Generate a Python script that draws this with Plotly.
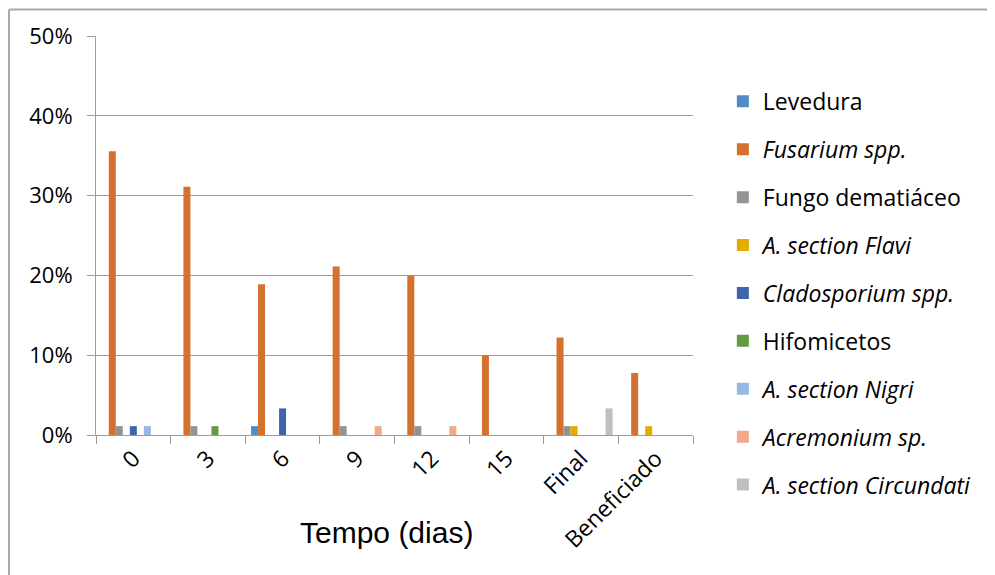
import plotly.graph_objects as go

categories = ["0", "3", "6", "9", "12", "15", "Final", "Beneficiado"]

series_names = [
    "Levedura",
    "<i>Fusarium spp.</i>",
    "Fungo dematiáceo",
    "<i>A. section Flavi</i>",
    "<i>Cladosporium spp.</i>",
    "Hifomicetos",
    "<i>A. section Nigri</i>",
    "<i>Acremonium sp.</i>",
    "<i>A. section Circundati</i>",
]

levedura = [0, 0, 1.11, 0, 0, 0, 0, 0]
fusarium = [35.56, 31.11, 18.89, 21.11, 20.0, 10.0, 12.22, 7.78]
dematiaceo = [1.11, 1.11, 0, 1.11, 1.11, 0, 1.11, 0]
flavi = [0, 0, 0, 0, 0, 0, 1.11, 1.11]
cladosporium = [1.11, 0, 3.33, 0, 0, 0, 0, 0]
hifomicetos = [0, 1.11, 0, 0, 0, 0, 0, 0]
nigri = [1.11, 0, 0, 0, 0, 0, 0, 0]
acremonium = [0, 0, 0, 1.11, 1.11, 0, 0, 0]
circundati = [0, 0, 0, 0, 0, 0, 3.33, 0]

series_values = [levedura, fusarium, dematiaceo, flavi, cladosporium,
                 hifomicetos, nigri, acremonium, circundati]

colors = ["#518CC5", "#D5712E", "#939393", "#E2AC00", "#3F64AD",
          "#629B42", "#97B9E0", "#F2A98A", "#BFBFBF"]

font_main = "'Open Sans', 'Noto Sans', sans-serif"

fig = go.Figure()
for i, (name, vals) in enumerate(zip(series_names, series_values)):
    fig.add_trace(go.Bar(
        x=categories,
        y=[v / 100 for v in vals],
        name=name,
        marker=dict(color=colors[i], line=dict(width=0)),
        legendgroup=f"g{i}",
    ))

grid_c = "#9C9C9C"
frame_c = "#A8A8A8"

fig.update_layout(
    width=987, height=567,
    margin=dict(l=88, r=302, t=28, b=140, autoexpand=False),
    paper_bgcolor="white", plot_bgcolor="white",
    barmode="group", bargap=0.155, bargroupgap=0,
    font=dict(family=font_main, size=22, color="#000000"),
    showlegend=True,
    legend=dict(
        x=1.05, y=0.89, xanchor="left", yanchor="top",
        font=dict(family=font_main, size=23, color="#000000"),
        tracegroupgap=15, bgcolor="rgba(0,0,0,0)",
        maxheight=560,
    ),
    xaxis=dict(
        type="category",
        automargin=False,
        tickson="boundaries",
        ticks="outside", ticklen=8, tickcolor=grid_c, tickwidth=1,
        showline=True, linecolor=grid_c, linewidth=1,
        tickangle=-45,
        tickfont=dict(family=font_main, size=23),
        showgrid=False,
    ),
    yaxis=dict(
        automargin=False,
        range=[0, 0.5], tickvals=[0, 0.1, 0.2, 0.3, 0.4, 0.5],
        tickformat=".0%",
        ticks="outside", ticklen=8, tickcolor=grid_c, tickwidth=1,
        showline=True, linecolor=grid_c, linewidth=1,
        showgrid=True, gridcolor=grid_c, gridwidth=1,
        zeroline=False,
        tickfont=dict(family=font_main, size=22),
        ticklabelstandoff=10,
    ),
    annotations=[
        dict(text="Tempo (dias)", xref="paper", yref="paper",
             x=0.486, y=-0.2456, xanchor="center", yanchor="middle",
             showarrow=False,
             font=dict(family="'Liberation Sans', Arial, sans-serif", size=30, color="#000000")),
    ],
    shapes=[
        dict(type="line", xref="paper", yref="paper",
             x0=-0.1457, x1=2.0, y0=1.0664, y1=1.0664,
             line=dict(color=frame_c, width=2)),
        dict(type="line", xref="paper", yref="paper",
             x0=-0.1457, x1=-0.1457, y0=-1.0, y1=1.0664,
             line=dict(color=frame_c, width=2)),
    ],
)

fig.write_html("out.html")
